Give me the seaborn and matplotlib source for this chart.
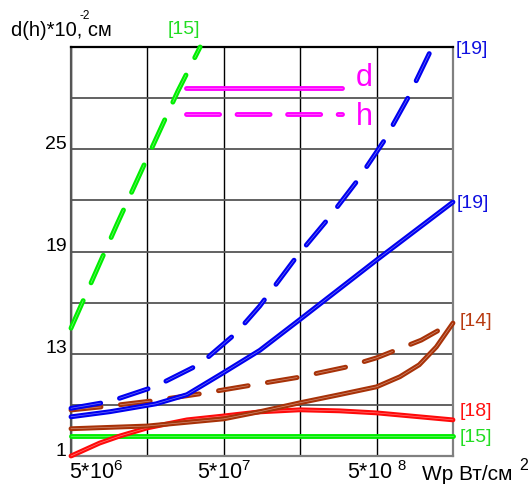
import matplotlib
matplotlib.use("Agg")
import matplotlib.pyplot as plt
import matplotlib.patheffects as pe
from matplotlib.transforms import ScaledTranslation
from matplotlib.ticker import FixedLocator, NullFormatter
import seaborn as sns
import pandas as pd

# ---------------- data ----------------
green_dash_x = [5e6, 1e7, 1.58e7, 2.5e7, 3.5e7]
green_dash_y = [14.5, 20.6, 24.5, 28.4, 31.0]

green_solid_x = [5e6, 1.58e9]
green_solid_y = [8.2, 8.2]

blue_dash_x = [5e6, 9e6, 1.8e7, 3.5e7, 6e7, 8.6e7, 1.5e8, 2.4e8, 3.7e8, 5.6e8, 8e8, 1.16e9]
blue_dash_y = [9.8, 10.2, 11.1, 12.4, 14.2, 15.8, 18.7, 20.9, 23.1, 25.5, 28.0, 31.0]

blue_solid_x = [5e6, 9e6, 1.8e7, 2.87e7, 5e7, 8.6e7, 1.57e8, 5e8, 1.58e9]
blue_solid_y = [9.3, 9.6, 10.06, 10.6, 11.9, 13.2, 15.0, 18.5, 21.9]

brown_dash_x = [5e6, 8.3e6, 1.72e7, 3.5e7, 8.6e7, 1.5e8, 3.1e8, 5e8, 9.8e8, 1.58e9]
brown_dash_y = [9.7, 9.9, 10.24, 10.65, 11.24, 11.6, 12.2, 12.76, 13.8, 14.85]

brown_solid_x = [5e6, 1.58e7, 5e7, 8.6e7, 1.57e8, 2.86e8, 5e8, 7.1e8, 9.5e8, 1.23e9, 1.58e9]
brown_solid_y = [8.6, 8.76, 9.18, 9.6, 10.12, 10.6, 11.06, 11.65, 12.35, 13.4, 14.8]

red_x = [5e6, 7.7e6, 1.05e7, 1.58e7, 2.87e7, 5e7, 8.6e7, 1.57e8, 2.86e8, 5e8, 1.58e9]
red_y = [7.0, 7.76, 8.18, 8.65, 9.12, 9.35, 9.59, 9.71, 9.65, 9.53, 9.12]

x_major = [5e6, 5e7, 5e8]
x_major_labels = [r"5*10$^{6}$", r"5*10$^{7}$", r"5*10 $^{8}$"]
x_minor = [1.58e7, 1.58e8]
y_major = [7, 13, 19, 25]
y_major_labels = ["1", "13", "19", "25"]
y_minor = [10, 16, 22, 28]

ref_labels = ["[15]", "[19]", "[19]", "[14]", "[18]", "[15]"]

GREEN = "#00ee00"
BLUE = "#0000f0"
BROWN = "#a83208"
RED = "#ff0a0a"
MAGENTA = "#ff00ff"

# ---------------- style ----------------
sns.set_style("white")
plt.rcParams["font.family"] = ["Liberation Sans", "DejaVu Sans"]
plt.rcParams["mathtext.fontset"] = "custom"
plt.rcParams["mathtext.rm"] = "Liberation Sans"
plt.rcParams["mathtext.it"] = "Liberation Sans:italic"
plt.rcParams["mathtext.bf"] = "Liberation Sans:bold"

W, H = 531, 484
fig = plt.figure(figsize=(W / 100, H / 100), dpi=100)
ax = fig.add_axes([71 / W, 1 - 456 / H, (453 - 71) / W, (456 - 47) / H])

LW = 3.5
DASH = (6.2, 4.0)


def draw(xs, ys, color, dashed):
    df = pd.DataFrame({"x": xs, "y": ys})
    n0 = len(ax.lines)
    sns.lineplot(data=df, x="x", y="y", ax=ax, color=color, lw=LW,
                 estimator=None, sort=False, legend=False)
    ln = ax.lines[n0]
    ln.set_solid_capstyle("round")
    ln.set_dash_capstyle("round")
    ln.set_solid_joinstyle("round")
    if dashed:
        ln.set_linestyle((0, DASH))
    ln.set_clip_on(False)
    ln.set_zorder(3)
    ln.set_path_effects([pe.Normal(),
                         pe.Stroke(linewidth=0.5, foreground="white", alpha=0.45)])
    return ln


draw(green_solid_x, green_solid_y, GREEN, False)
draw(red_x, red_y, RED, False)
draw(brown_solid_x, brown_solid_y, BROWN, False)
draw(brown_dash_x, brown_dash_y, BROWN, True)
draw(blue_solid_x, blue_solid_y, BLUE, False)
draw(blue_dash_x, blue_dash_y, BLUE, True)
draw(green_dash_x, green_dash_y, GREEN, True)

ax.set_xscale("log")
ax.set_xlim(5e6, 5e6 * 10 ** 2.5)
ax.set_ylim(7, 31)
ax.set_xlabel("")
ax.set_ylabel("")

ax.xaxis.set_major_locator(FixedLocator(x_major))
ax.xaxis.set_minor_locator(FixedLocator(x_minor))
ax.xaxis.set_minor_formatter(NullFormatter())
ax.set_xticklabels(x_major_labels)
ax.set_yticks(y_major)
ax.set_yticks(y_minor, minor=True)
ax.set_yticklabels(y_major_labels)

ax.tick_params(axis="both", which="both", length=0, labelsize=14, colors="black")
ax.tick_params(axis="x", pad=4, labelsize=15.5)
ax.tick_params(axis="y", pad=3)

ax.grid(True, axis="x", which="both", color="black", lw=1.0)
ax.grid(True, axis="y", which="both", color="#555555", lw=1.3)
ax.set_axisbelow(True)

for side, col in [("top", "black"), ("left", "#555555"), ("right", "#808080"), ("bottom", "#808080")]:
    ax.spines[side].set_visible(True)
    ax.spines[side].set_color(col)
    ax.spines[side].set_linewidth(1.6)

# shift labels
for lab in ax.get_yticklabels():
    lab.set_transform(lab.get_transform() + ScaledTranslation(0, 7 / 100, fig.dpi_scale_trans))
xl = ax.get_xticklabels()
xl[0].set_horizontalalignment("left")
xl[0].set_transform(xl[0].get_transform() + ScaledTranslation(-2 / 100, 0, fig.dpi_scale_trans))

# legend keys (d / h)
lkw = dict(transform=ax.transAxes, color=MAGENTA, lw=LW, clip_on=False,
           solid_capstyle="round", dash_capstyle="round", zorder=4)
l1, = ax.plot([0.301, 0.709], [0.900, 0.900], **lkw)
l2, = ax.plot([0.301, 0.709], [0.836, 0.836], linestyle=(0, (6.8, 3.6)), **lkw)
for l in (l1, l2):
    l.set_path_effects([pe.Normal(), pe.Stroke(linewidth=0.5, foreground="white", alpha=0.45)])
ax.text(0.745, 0.924, "d", transform=ax.transAxes, color=MAGENTA, fontsize=22,
        ha="left", va="center")
ax.text(0.745, 0.830, "h", transform=ax.transAxes, color=MAGENTA, fontsize=22,
        ha="left", va="center")


def ftext(px, py, s, color="black", ha="left", size=14):
    fig.text(px / W, 1 - py / H, s, color=color, ha=ha, va="center", fontsize=size)


# reference labels
ftext(184, 30, ref_labels[0], "#22dd22", ha="center")
ftext(456, 50, ref_labels[1], "#1010e0")
ftext(457, 203, ref_labels[2], "#1010e0")
ftext(460, 322, ref_labels[3], "#b83a10")
ftext(460, 411, ref_labels[4], "#ff1010")
ftext(460, 437, ref_labels[5], "#22dd22")

# axis titles
ftext(11, 31, "d(h)*10, см", size=14.5)
ftext(80, 16, "-2", size=8.5)
ftext(422, 475, "Wp Вт/см", size=15)
ftext(519, 466, "2", size=11.5)

fig.savefig("out.png", dpi=100)
